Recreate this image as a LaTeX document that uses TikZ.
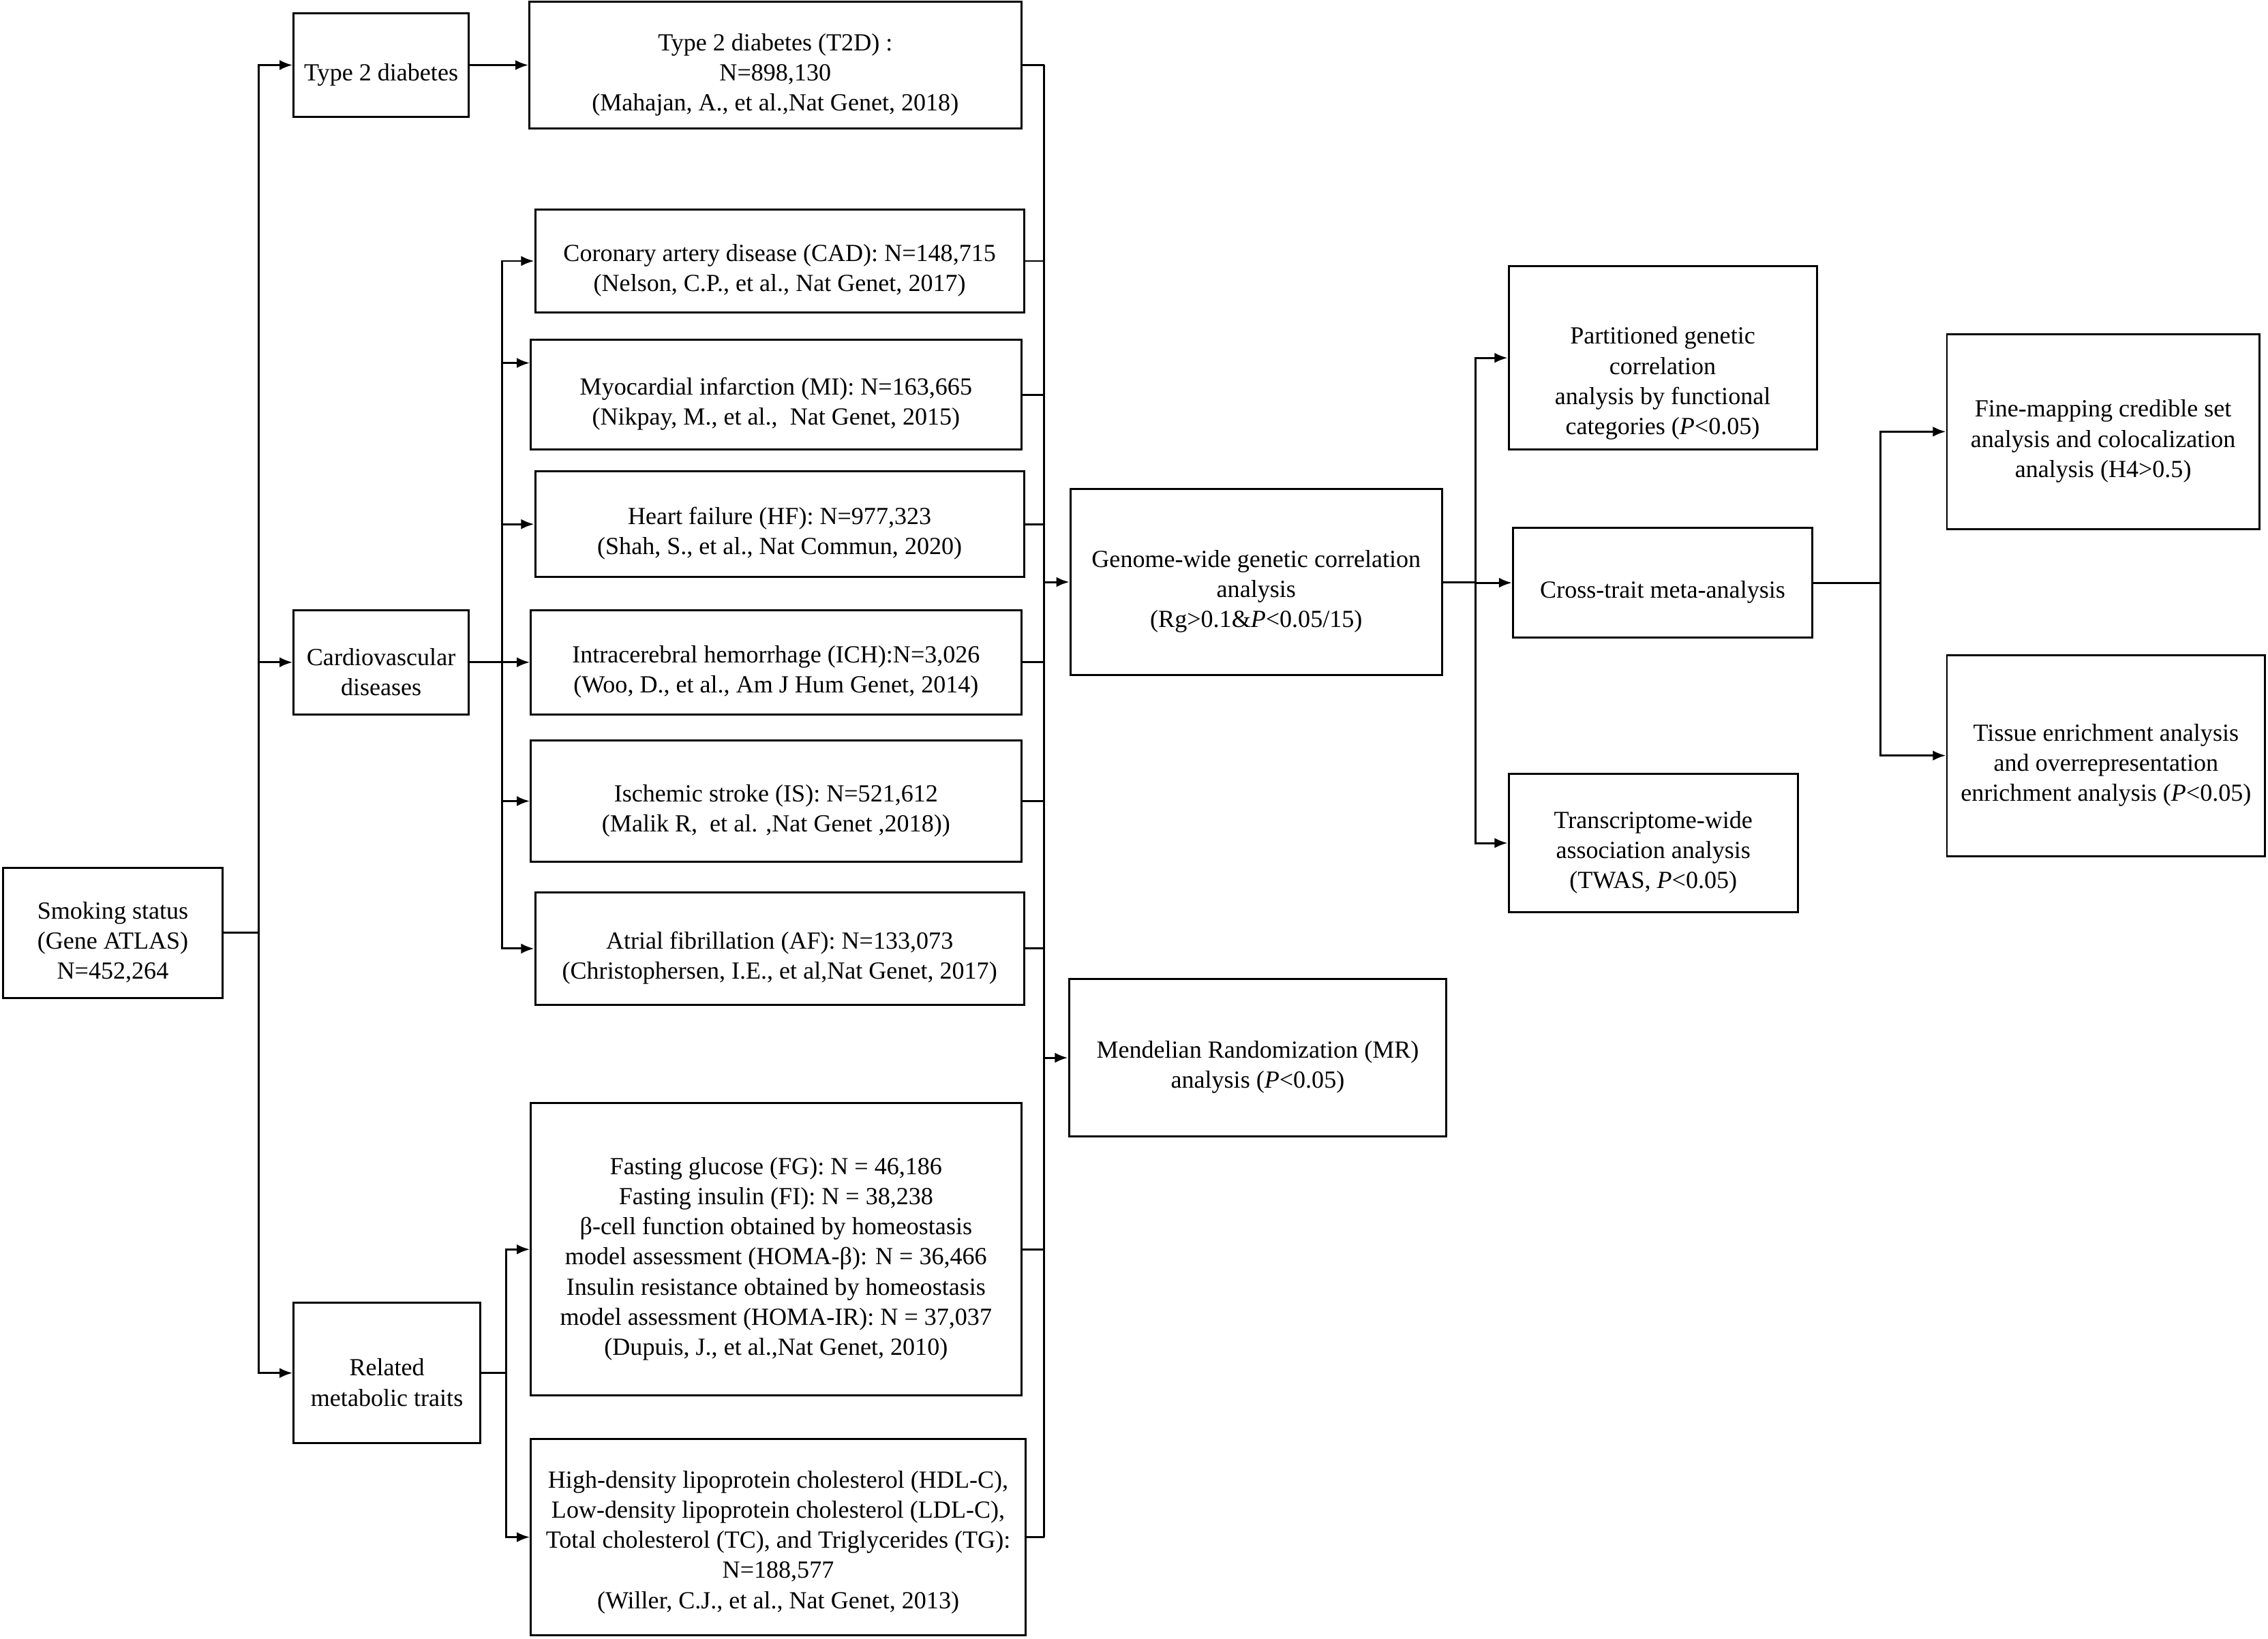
\documentclass[tikz,border=0pt]{standalone}
\usepackage{fontspec}
\setmainfont{Liberation Serif}
\usetikzlibrary{arrows.meta}
\tikzstyle{block}=[draw,fill=white,rectangle,align=center,inner sep=0pt]
\tikzstyle{every node}=[font=\fontsize{17}{20.8}\selectfont]
\newcommand{\tpad}[1][25pt]{\rule{0pt}{#1}}

\begin{document}
\begin{tikzpicture}[x=1pt,y=-1pt,>={Latex[length=9pt,width=7pt]},line width=1.4pt]
  \useasboundingbox (0,0) rectangle (1568,1133);
  % exposure and outcome groups
  \node[block,minimum width=152,minimum height=90] (smoking) at (78,645) {\tpad Smoking status\\(Gene ATLAS)\\N=452,264};
  \node[block,minimum width=121,minimum height=72] (t2) at (263.5,45) {\tpad Type 2 diabetes};
  \node[block,minimum width=121,minimum height=72] (cvd) at (263.5,458) {\tpad Cardiovascular\\diseases};
  \node[block,minimum width=129,minimum height=97] (met) at (267.5,949.5) {\tpad Related\\metabolic traits};
  % GWAS data sets
  \node[block,minimum width=340,minimum height=88] (t2d) at (536,45) {\tpad Type 2 diabetes (T2D) :\\N=898,130\\(Mahajan, A., et al.,Nat Genet, 2018)};
  \node[block,minimum width=338,minimum height=71] (cad) at (539,180.5) {\tpad Coronary artery disease (CAD): N=148,715\\(Nelson, C.P., et al., Nat Genet, 2017)};
  \node[block,minimum width=339,minimum height=76] (mi) at (536.5,273) {\tpad Myocardial infarction (MI): N=163,665\\(Nikpay, M., et al.,~ Nat Genet, 2015)};
  \node[block,minimum width=338,minimum height=73] (hf) at (539,362.5) {\tpad Heart failure (HF): N=977,323\\(Shah, S., et al., Nat Commun, 2020)};
  \node[block,minimum width=339,minimum height=72] (ich) at (536.5,458) {\tpad Intracerebral hemorrhage (ICH):N=3,026\\(Woo, D., et al., Am J Hum Genet, 2014)};
  \node[block,minimum width=339,minimum height=84] (ischem) at (536.5,554) {\tpad Ischemic stroke (IS): N=521,612\\(Malik R,~ et al. ,Nat Genet ,2018))};
  \node[block,minimum width=338,minimum height=78] (af) at (539,656) {\tpad Atrial fibrillation (AF): N=133,073\\(Christophersen, I.E., et al,Nat Genet, 2017)};
  \node[block,minimum width=339,minimum height=202] (glu) at (536.5,864) {\tpad Fasting glucose (FG): N = 46,186\\Fasting insulin (FI): N = 38,238\\β-cell function obtained by homeostasis\\model assessment (HOMA-β): N = 36,466\\Insulin resistance obtained by homeostasis\\model assessment (HOMA-IR): N = 37,037\\(Dupuis, J., et al.,Nat Genet, 2010)};
  \node[block,minimum width=342,minimum height=136] (lip) at (538,1063) {\tpad[19pt]High-density lipoprotein cholesterol (HDL-C),\\Low-density lipoprotein cholesterol (LDL-C),\\Total cholesterol (TC), and Triglycerides (TG):\\N=188,577\\(Willer, C.J., et al., Nat Genet, 2013)};
  % analyses
  \node[block,minimum width=257,minimum height=129] (gwc) at (868.5,402.5) {\tpad Genome-wide genetic correlation\\analysis\\(Rg>0.1\&\textit{P}<0.05/15)};
  \node[block,minimum width=261,minimum height=109] (mr) at (869.5,731.5) {\tpad Mendelian Randomization (MR)\\analysis (\textit{P}<0.05)};
  \node[block,minimum width=213,minimum height=127] (pgc) at (1149.5,247.5) {\tpad[47pt]Partitioned genetic\\correlation\\analysis by functional\\categories (\textit{P}<0.05)};
  \node[block,minimum width=207,minimum height=76] (ctm) at (1149.5,403) {\tpad Cross-trait meta-analysis};
  \node[block,minimum width=200,minimum height=96] (twas) at (1143,583) {\tpad Transcriptome-wide\\association analysis\\(TWAS, \textit{P}<0.05)};
  \node[block,minimum width=216,minimum height=135] (fine) at (1454,298.5) {\tpad Fine-mapping credible set\\analysis and colocalization\\analysis (H4>0.5)};
  \node[block,minimum width=220,minimum height=139] (tissue) at (1456,522.5) {\tpad Tissue enrichment analysis\\and overrepresentation\\enrichment analysis (\textit{P}<0.05)};
  % bus points
  \coordinate (bl) at (179,645);
  \coordinate (bc) at (347,458);
  \coordinate (bm) at (350,949.5);
  \coordinate (br) at (722,0);
  \coordinate (bg) at (1020,402.5);
  \coordinate (bx) at (1300,403);
  % connectors
  \draw (smoking.east) -- (bl);
  \foreach \n in {t2,cvd,met}
    \draw[->] (bl) |- (\n.west);
  \draw[->] (t2.east) -- (t2d.west);
  \draw (cvd.east) -- (bc);
  \foreach \n in {cad,hf,ich,ischem,af}
    \draw[->] (bc) |- (\n.west);
  \draw[->] (bc) |- ([yshift=22pt]mi.west);
  \draw (met.east) -- (bm);
  \foreach \n in {glu,lip}
    \draw[->] (bm) |- (\n.west);
  \foreach \n in {t2d,cad,mi,hf,ich,ischem,af,glu,lip}
    \draw (\n.east) -- (\n.east -| br);
  \draw (t2d.east -| br) -- (lip.east -| br);
  \draw[->] (gwc.west -| br) -- (gwc.west);
  \draw[->] (mr.west -| br) -- (mr.west);
  \draw (gwc.east) -- (bg);
  \foreach \n in {pgc,ctm,twas}
    \draw[->] (bg) |- (\n.west);
  \draw (ctm.east) -- (bx);
  \foreach \n in {fine,tissue}
    \draw[->] (bx) |- (\n.west);
\end{tikzpicture}
\end{document}
